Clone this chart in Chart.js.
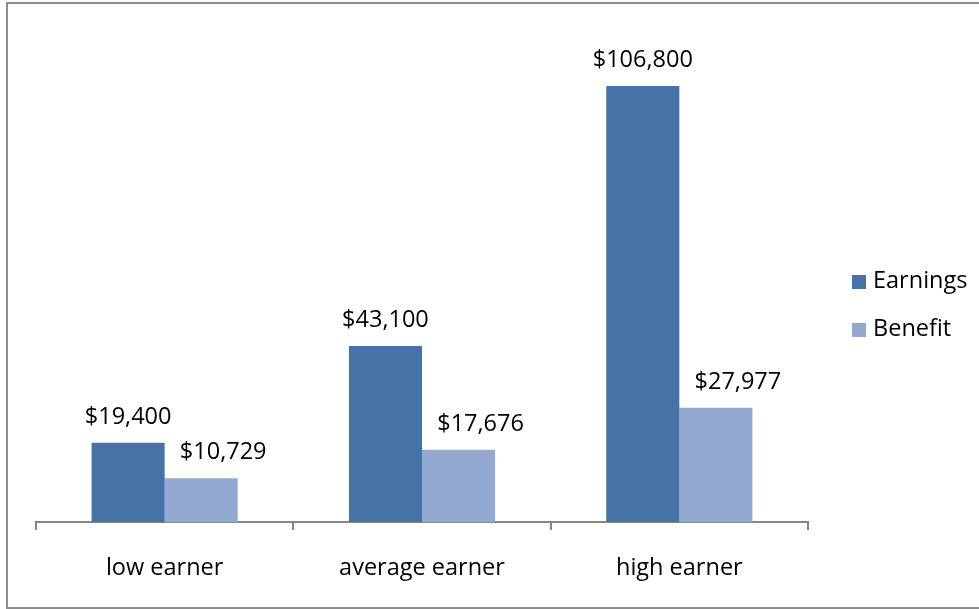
<!DOCTYPE html>
<html>
<head>
<meta charset="utf-8">
<script src="https://cdn.jsdelivr.net/npm/chart.js@4.4.1/dist/chart.umd.min.js"></script>
<style>
  html, body { margin: 0; padding: 0; background: #fff; }
  #wrap { width: 979px; height: 609px; position: relative; }
</style>
</head>
<body>
<div id="wrap"><canvas id="myChart" width="979" height="609"></canvas></div>
<script>
'use strict';
/*------Chart data------*/
let categories = ['low earner', 'average earner', 'high earner'];
let earnings = [19400, 43100, 106800];
let benefit = [10729, 17676, 27977];
let seriesNames = ['Earnings', 'Benefit'];
let seriesColors = ['#4673a7', '#94a9d1'];

let fontFamily = '"Open Sans", "Noto Sans", sans-serif';
let fontSize = 23.5;
// Excel nudged the lighter series' labels to the right
let labelShift = [0, 22];

function money(v) {
  return '$' + v.toLocaleString('en-US');
}

// Outer frame around the whole picture
const framePlugin = {
  id: 'frame',
  beforeDraw(chart) {
    const ctx = chart.ctx;
    ctx.save();
    ctx.fillStyle = '#fff';
    ctx.fillRect(0, 0, chart.width, chart.height);
    ctx.strokeStyle = '#8c8c8c';
    ctx.lineWidth = 2;
    ctx.strokeRect(7, 3, chart.width + 10, chart.height - 4);
    ctx.restore();
  }
};

// Value labels above each bar
const valueLabels = {
  id: 'valueLabels',
  afterDatasetsDraw(chart) {
    const ctx = chart.ctx;
    ctx.save();
    ctx.font = fontSize + 'px ' + fontFamily;
    ctx.fillStyle = '#000';
    ctx.textAlign = 'center';
    ctx.textBaseline = 'alphabetic';
    chart.data.datasets.forEach((ds, i) => {
      chart.getDatasetMeta(i).data.forEach((bar, j) => {
        ctx.fillText(money(ds.data[j]), bar.x + labelShift[i], bar.y - 19);
      });
    });
    ctx.restore();
  }
};

// Legend on the right, Excel style
const sideLegend = {
  id: 'sideLegend',
  afterDraw(chart) {
    const ctx = chart.ctx;
    const rows = [282, 330];
    ctx.save();
    ctx.font = fontSize + 'px ' + fontFamily;
    ctx.textBaseline = 'middle';
    ctx.textAlign = 'left';
    seriesNames.forEach((name, i) => {
      ctx.fillStyle = seriesColors[i];
      ctx.fillRect(852, rows[i] - 7, 14, 14);
      ctx.fillStyle = '#000';
      ctx.fillText(name, 873, rows[i] - 1);
    });
    ctx.restore();
  }
};

const data = {
  labels: categories,
  datasets: [
    {
      label: seriesNames[0],
      data: earnings,
      backgroundColor: seriesColors[0],
      borderWidth: 0,
      categoryPercentage: 0.568,
      barPercentage: 1.0,
    },
    {
      label: seriesNames[1],
      data: benefit,
      backgroundColor: seriesColors[1],
      borderWidth: 0,
      categoryPercentage: 0.568,
      barPercentage: 1.0,
    },
  ],
};

const config = {
  type: 'bar',
  data: data,
  options: {
    responsive: false,
    animation: false,
    layout: {
      padding: { left: 36, right: 171, top: 32, bottom: 0 },
    },
    plugins: {
      legend: { display: false },
      tooltip: { enabled: false },
    },
    scales: {
      x: {
        offset: true,
        grid: {
          offset: true,
          drawOnChartArea: false,
          drawTicks: true,
          tickLength: 8,
          color: '#868686',
          lineWidth: 2,
        },
        border: { display: true, color: '#868686', width: 2 },
        ticks: {
          color: '#000',
          padding: 24,
          font: { family: fontFamily, size: fontSize },
          maxRotation: 0,
        },
        afterFit(scale) {
          scale.height = 87;
        },
      },
      y: {
        display: false,
        min: 0,
        max: 120000,
      },
    },
  },
  plugins: [framePlugin, valueLabels, sideLegend],
};

const myChart = new Chart(document.getElementById('myChart'), config);
</script>
</body>
</html>
